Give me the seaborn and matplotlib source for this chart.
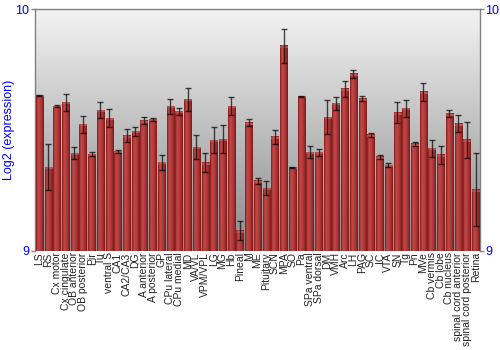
import numpy as np
import pandas as pd
import matplotlib
matplotlib.use("Agg")
import matplotlib.pyplot as plt
import seaborn as sns
from matplotlib.colors import LinearSegmentedColormap

regions = ["LS", "RS", "Cx motor", "Cx cingulate", "OB anterior", "OB posterior", "Pir", "Tu",
           "ventral S", "CA1", "CA2/CA3", "DG", "A anterior", "A posterior", "GP", "CPu lateral",
           "CPu medial", "MD", "VA/VL", "VPM/VPL", "LG", "MG", "Hb", "Pineal", "M", "ME",
           "Pituitary", "SCN", "MPA", "SO", "Pa", "SPa ventral", "SPa dorsal", "DM", "VMH", "Arc",
           "LH", "PAG", "SC", "IC", "VTA", "SN", "Tg", "Pn", "MVe", "Cb vermis", "Cb lobe",
           "Cb nucleus", "spinal cord anterior", "spinal cord posterior", "Retina"]
expression = [9.643, 9.346, 9.599, 9.614, 9.405, 9.523, 9.401, 9.582,
              9.548, 9.411, 9.477, 9.494, 9.539, 9.544, 9.366, 9.598,
              9.577, 9.627, 9.430, 9.365, 9.458, 9.463, 9.598, 9.083, 9.530, 9.290,
              9.260, 9.472, 9.848, 9.346, 9.639, 9.408, 9.407, 9.553, 9.610, 9.671,
              9.732, 9.629, 9.481, 9.390, 9.355, 9.571, 9.589, 9.443, 9.658, 9.425, 9.398,
              9.568, 9.526, 9.459, 9.253]
errors = [0.003, 0.095, 0.005, 0.037, 0.025, 0.037, 0.007, 0.034,
          0.037, 0.007, 0.026, 0.019, 0.016, 0.007, 0.030, 0.030,
          0.015, 0.048, 0.050, 0.039, 0.054, 0.056, 0.037, 0.039, 0.015, 0.013,
          0.028, 0.030, 0.070, 0.002, 0.003, 0.024, 0.014, 0.070, 0.028, 0.033,
          0.017, 0.010, 0.008, 0.008, 0.008, 0.044, 0.036, 0.009, 0.038, 0.035, 0.037,
          0.014, 0.035, 0.074, 0.150]
y_ticks = [9, 10]
y_min, y_max = 9, 10

df = pd.DataFrame({"region": regions, "expression": expression, "err": errors})

sns.set_theme(style="white")
plt.rcParams["font.family"] = ["Liberation Sans", "DejaVu Sans"]

fig = plt.figure(figsize=(5, 3.5), dpi=100)
ax = fig.add_axes([0.07, 0.283, 0.89, 0.691])

# background gradient
bg = LinearSegmentedColormap.from_list("bg", ["#f3f3f3", "#8a8a8a"])
ax.imshow(np.linspace(0, 1, 256).reshape(-1, 1), cmap=bg, aspect="auto",
          extent=[0, 1, 0, 1], transform=ax.transAxes, zorder=0)

sns.barplot(data=df, x="region", y="expression", color="#b33a3a", width=0.82,
            errorbar=None, ax=ax, zorder=2, saturation=1, linewidth=0)

# gradient fill on bars (clipped to visible range)
barcm = LinearSegmentedColormap.from_list(
    "bar", ["#7e1c1c", "#c44848", "#b83e3e", "#a33030", "#781818"])
capcm = LinearSegmentedColormap.from_list("cap", ["#a04444", "#d06060", "#b04848"])
grad = np.linspace(0, 1, 64).reshape(1, -1)
xs, tops = [], []
for p in ax.patches:
    x0, w, h = p.get_x(), p.get_width(), p.get_height()
    top = p.get_y() + h
    ax.imshow(grad, cmap=barcm, aspect="auto", extent=[x0, x0 + w, y_min, top], zorder=3)
    ax.imshow(grad, cmap=capcm, aspect="auto", extent=[x0, x0 + w, top - 0.008, top], zorder=3.1)
    xs.append(x0 + w / 2)
    tops.append(top)
ax.set_xlim(-0.5, len(regions) - 0.5)
ax.set_ylim(y_min, y_max)

ax.errorbar(xs, tops, yerr=df["err"], fmt="none", ecolor="black", alpha=0.7,
            elinewidth=1, capsize=2, capthick=1, zorder=4)

ax.set_yticks(y_ticks)
ax.set_yticklabels([str(t) for t in y_ticks])
ax.tick_params(axis="y", which="both", left=True, right=True, labelleft=True, labelright=True,
               colors="#888888", labelcolor="blue", labelsize=9, length=3, width=1, pad=1)
ax.tick_params(axis="x", length=0, labelsize=7.5, labelcolor="#222222", pad=1)
plt.setp(ax.get_xticklabels(), rotation=90)
ax.set_xlabel("")
ax.set_ylabel("Log2 (expression)", color="blue", fontsize=9, va="center")
ax.yaxis.set_label_coords(-0.058, 0.5)

for s in ["top", "left", "right"]:
    ax.spines[s].set_visible(True)
    ax.spines[s].set_color("#808080")
    ax.spines[s].set_linewidth(1)
ax.spines["bottom"].set_visible(False)
ax.grid(False)

fig.savefig("out.png", dpi=100)
